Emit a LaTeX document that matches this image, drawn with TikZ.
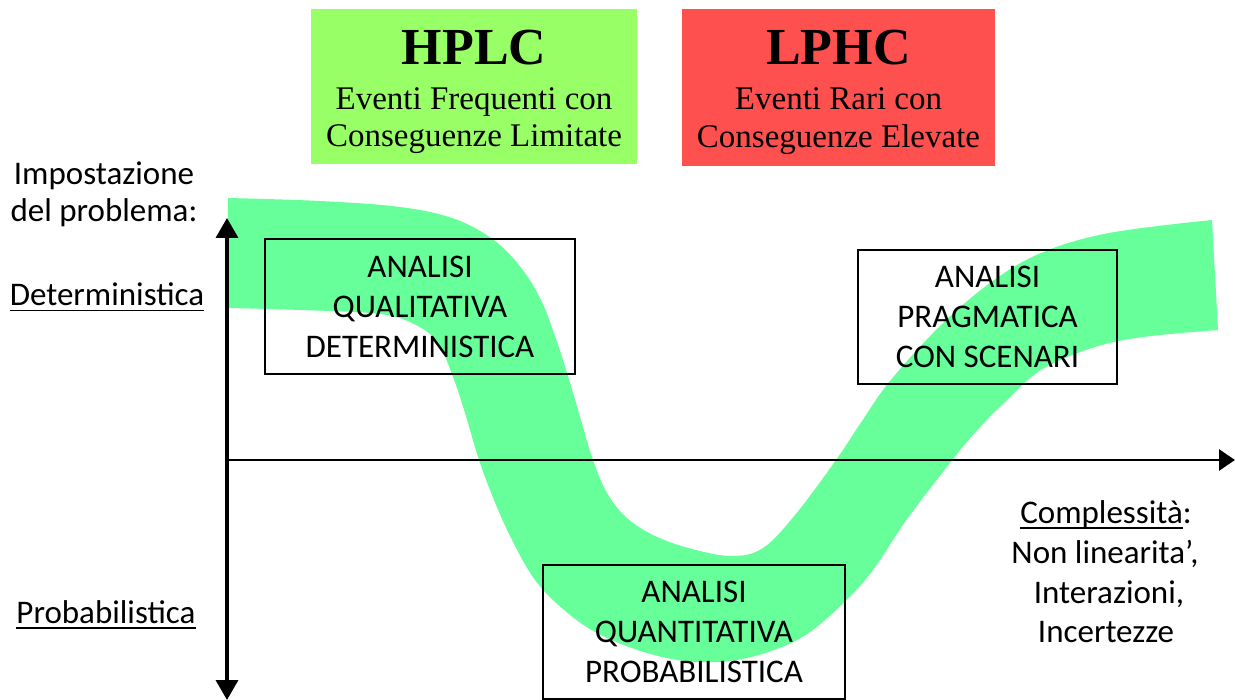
\documentclass[tikz,border=0pt]{standalone}
\usepackage{fontspec}
\setmainfont{Carlito}
\newfontfamily\tnr{Liberation Serif}
\usetikzlibrary{arrows.meta}
\definecolor{bandgreen}{HTML}{66FF99}
\definecolor{hplcgreen}{HTML}{99FF66}
\definecolor{lphcred}{HTML}{FF5050}
\newcommand{\ulin}[1]{\setbox0\hbox{#1}\rlap{\rule[-5.5pt]{\wd0}{1.8pt}}\box0}
\tikzset{
  anbox/.style={draw=black, line width=1.4pt, align=center, inner sep=0pt,
    font=\fontsize{33}{40}\selectfont},
  lbl/.style={anchor=base, inner sep=0pt, font=\fontsize{33}{40}\selectfont},
  hdrtitle/.style={anchor=base, inner sep=0pt, font=\tnr\bfseries\fontsize{52}{60}\selectfont},
  hdrsub/.style={anchor=base, inner sep=0pt, font=\tnr\fontsize{33}{40}\selectfont},
  hdrbox/.style={inner sep=0pt, draw=none},
}
\begin{document}
\begin{tikzpicture}[x=1pt,y=-1pt]
\useasboundingbox (0,0) rectangle (1235,700);
% band
\fill[bandgreen] plot[smooth, tension=0.6] coordinates {(228,198) (320,201) (400,207) (455,219) (495,241) (522,269) (541,300) (555,336) (568,376) (581,420) (593,460) (607,493) (627,518) (655,536) (692,549) (732,556) (763,548) (795,515) (836,460) (862,421) (890,381) (939,327) (990,283) (1041,253) (1109,233) (1212,220)}
 -- plot[smooth, tension=0.6] coordinates {(1218,330) (1143,337) (1092,348) (1041,370) (1005,402) (972,436) (939,477) (905,522) (870,574) (834,612) (797,640) (747,658) (697,662) (647,653) (597,633) (563,609) (535,580) (512,540) (494,500) (479,460) (465,413) (453,377) (438,343) (416,325) (380,314) (300,310) (228,308)}
 -- cycle;
% header boxes
\node[hdrbox, fill=hplcgreen, minimum width=326pt, minimum height=155pt] (hplc) at (474,86.5) {};
\node[hdrtitle] (hplcT) at (474,65) {HPLC};
\node[hdrsub] (hplcA) at (474,110) {Eventi Frequenti con};
\node[hdrsub] (hplcB) at (474,147) {Conseguenze Limitate};
\node[hdrbox, fill=lphcred, minimum width=313pt, minimum height=157pt] (lphc) at (838.5,87.5) {};
\node[hdrtitle] (lphcT) at (838.5,65) {LPHC};
\node[hdrsub] (lphcA) at (838.5,110) {Eventi Rari con};
\node[hdrsub] (lphcB) at (838.5,148) {Conseguenze Elevate};
% axes
\coordinate (vtop) at (227,218);
\coordinate (vbot) at (227,700);
\coordinate (orig) at (227,460);
\coordinate (hend) at (1235,460);
\draw[line width=3.5pt, {Triangle[length=20pt,width=22pt]}-{Triangle[length=20pt,width=22pt]}] (vbot) -- (vtop);
\draw[line width=2.6pt, -{Triangle[length=16pt,width=21pt]}] (orig) -- (hend);
% analysis boxes
\node[anbox, minimum width=310pt, minimum height=135pt] (qual) at (420,306.5) {ANALISI\\QUALITATIVA\\DETERMINISTICA};
\node[anbox, minimum width=259pt, minimum height=134pt] (prag) at (987.5,317) {ANALISI\\PRAGMATICA\\CON SCENARI};
\node[anbox, minimum width=302pt, minimum height=134pt] (quant) at (694,632) {ANALISI\\QUANTITATIVA\\PROBABILISTICA};
% left labels
\node[lbl] (imp1) at (104,185) {Impostazione};
\node[lbl] (imp2) at (104,222) {del problema:};
\node[lbl] (det) at (107,306) {\ulin{Deterministica}};
\node[lbl] (prob) at (106,623) {\ulin{Probabilistica}};
% right labels
\node[lbl] (cx1) at (1106,523) {\ulin{Complessità}:};
\node[lbl] (cx2) at (1105,563) {Non linearita’,};
\node[lbl] (cx3) at (1109,603) {Interazioni,};
\node[lbl] (cx4) at (1106,642) {Incertezze};
\end{tikzpicture}
\end{document}
